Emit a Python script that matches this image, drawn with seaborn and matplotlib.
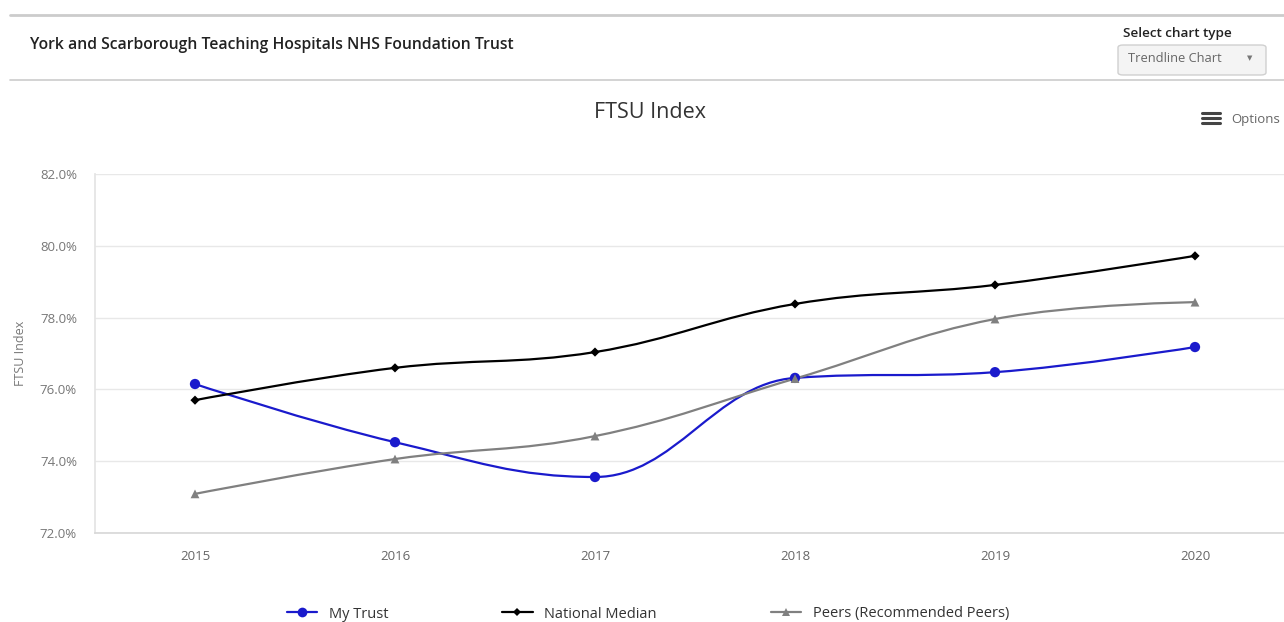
import numpy as np
import pandas as pd
import matplotlib
matplotlib.use("Agg")
import matplotlib.pyplot as plt
import seaborn as sns
from matplotlib.path import Path
from matplotlib.patches import PathPatch, FancyBboxPatch
from matplotlib.lines import Line2D
from matplotlib.ticker import FuncFormatter, FixedLocator

# Data
years = ["2015", "2016", "2017", "2018", "2019", "2020"]
my_trust = [76.15, 74.53, 73.56, 76.32, 76.48, 77.18]
national_median = [75.70, 76.60, 77.04, 78.38, 78.91, 79.72]
peers = [73.09, 74.06, 74.70, 76.30, 77.96, 78.43]

series_names = ["My Trust", "National Median", "Peers (Recommended Peers)"]
series_values = [my_trust, national_median, peers]
colors = {"My Trust": "#1a1acc", "National Median": "#000000",
          "Peers (Recommended Peers)": "#808080"}
markers = {"My Trust": "o", "National Median": "D",
           "Peers (Recommended Peers)": "^"}
msizes = {"My Trust": 55, "National Median": 22, "Peers (Recommended Peers)": 40}

df = pd.DataFrame({
    "pos": np.tile(np.arange(len(years)), len(series_names)),
    "value": np.concatenate(series_values),
    "series": np.repeat(series_names, len(years)),
})


def spline_path(xs, ys, smoothing=1.5):
    # highcharts style spline: cubic bezier through every point
    n = len(xs)
    denom = smoothing + 1
    lc = [(x, y) for x, y in zip(xs, ys)]
    rc = [(x, y) for x, y in zip(xs, ys)]
    for i in range(1, n - 1):
        px, py = xs[i], ys[i]
        lx, ly = xs[i - 1], ys[i - 1]
        nx, ny = xs[i + 1], ys[i + 1]
        lcx = (smoothing * px + lx) / denom
        lcy = (smoothing * py + ly) / denom
        rcx = (smoothing * px + nx) / denom
        rcy = (smoothing * py + ny) / denom
        corr = (rcy - lcy) * (rcx - px) / (rcx - lcx) + py - rcy
        lcy += corr
        rcy += corr
        if lcy > ly and lcy > py:
            lcy = max(ly, py)
            rcy = 2 * py - lcy
        elif lcy < ly and lcy < py:
            lcy = min(ly, py)
            rcy = 2 * py - lcy
        if rcy > ny and rcy > py:
            rcy = max(ny, py)
            lcy = 2 * py - rcy
        elif rcy < ny and rcy < py:
            rcy = min(ny, py)
            lcy = 2 * py - rcy
        lc[i] = (lcx, lcy)
        rc[i] = (rcx, rcy)
    verts = [(xs[0], ys[0])]
    codes = [Path.MOVETO]
    for i in range(1, n):
        verts += [rc[i - 1], lc[i], (xs[i], ys[i])]
        codes += [Path.CURVE4] * 3
    return Path(verts, codes)


sns.set_theme(style="white")
plt.rcParams["font.family"] = ["Open Sans", "DejaVu Sans"]

fig = plt.figure(figsize=(12.84, 6.22), dpi=100)
ax = fig.add_axes([95 / 1284, 89 / 622, 1200 / 1284, 359 / 622])

for name, vals in zip(series_names, series_values):
    p = spline_path(list(range(len(years))), vals)
    ax.add_patch(PathPatch(p, fill=False, edgecolor=colors[name], lw=1.6,
                           zorder=2, capstyle="round"))

sns.scatterplot(data=df, x="pos", y="value", hue="series", style="series",
                palette=colors, markers=markers, size="series", sizes=msizes,
                edgecolor="none", legend=False, ax=ax, zorder=3)

ax.set_xlim(-0.5, 5.5)
ax.set_ylim(72, 82)
ax.set_yticks(np.arange(72, 82.1, 2))
ax.yaxis.set_major_formatter(FuncFormatter(lambda v, _: f"{v:.1f}%"))
ax.set_xticks(range(len(years)))
ax.set_xticklabels(years)
ax.xaxis.set_minor_locator(FixedLocator(np.arange(-0.5, 5.6, 1)))
ax.tick_params(axis="x", which="major", length=0, pad=12, labelsize=9.5,
               labelcolor="#666666")
ax.tick_params(axis="x", which="minor", length=10, width=1, color="#d8d8d8",
               direction="out")
ax.tick_params(axis="y", length=0, pad=13, labelsize=9.5, labelcolor="#777777")
ax.grid(axis="y", color="#e8e8e8", lw=1)
ax.set_xlabel("")
ax.set_ylabel("FTSU Index", fontsize=9, color="#777777", labelpad=9)
for s in ["top", "right"]:
    ax.spines[s].set_visible(False)
ax.spines["bottom"].set_color("#d8d8d8")
ax.spines["left"].set_color("#e4e4e4")

# chart title and options
fig.text(650 / 1284, 1 - 112 / 622, "FTSU Index", ha="center", va="center",
         fontsize=15.5, color="#333333")
fig.text(1231 / 1284, 1 - 119 / 622, "Options", ha="left", va="center",
         fontsize=9.5, color="#666666")
for dy in (-5, 0, 5):
    fig.add_artist(Line2D([1202 / 1284, 1220 / 1284],
                          [1 - (118 + dy) / 622] * 2, color="#444444", lw=2.2))

# page header
fig.add_artist(Line2D([10 / 1284, 1], [1 - 15 / 622] * 2, color="#cccccc", lw=2))
fig.add_artist(Line2D([10 / 1284, 1], [1 - 80 / 622] * 2, color="#cccccc", lw=1.2))
fig.text(30 / 1284, 1 - 45 / 622,
         "York and Scarborough Teaching Hospitals NHS Foundation Trust",
         ha="left", va="center", fontsize=11.3, fontweight="semibold",
         color="#222222")
fig.text(1123 / 1284, 1 - 33 / 622, "Select chart type", ha="left",
         va="center", fontsize=9.7, fontweight="semibold", color="#222222")
fig.add_artist(FancyBboxPatch((1118 / 1284, 1 - 75 / 622), 148 / 1284,
                              30 / 622, boxstyle="round,pad=0,rounding_size=0.004",
                              transform=fig.transFigure, facecolor="#f4f4f4",
                              edgecolor="#d0d0d0", lw=1))
fig.text(1128 / 1284, 1 - 59 / 622, "Trendline Chart", ha="left", va="center",
         fontsize=9.3, color="#666666")
fig.text(1250 / 1284, 1 - 58 / 622, "▼", ha="center", va="center",
         fontsize=5, color="#777777", family="DejaVu Sans")

# legend
handles = [Line2D([], [], color=colors[n], marker=markers[n], lw=1.6,
                  markersize={"My Trust": 7, "National Median": 4.5,
                              "Peers (Recommended Peers)": 6}[n],
                  markeredgewidth=0) for n in series_names]
fig.legend(handles, series_names, loc="center", ncol=3,
           bbox_to_anchor=(648 / 1284, 1 - 614 / 622), frameon=False,
           fontsize=10.5, labelcolor="#333333", handlelength=2.1,
           columnspacing=7.8, handletextpad=0.8)

fig.savefig("out.png", dpi=100)
